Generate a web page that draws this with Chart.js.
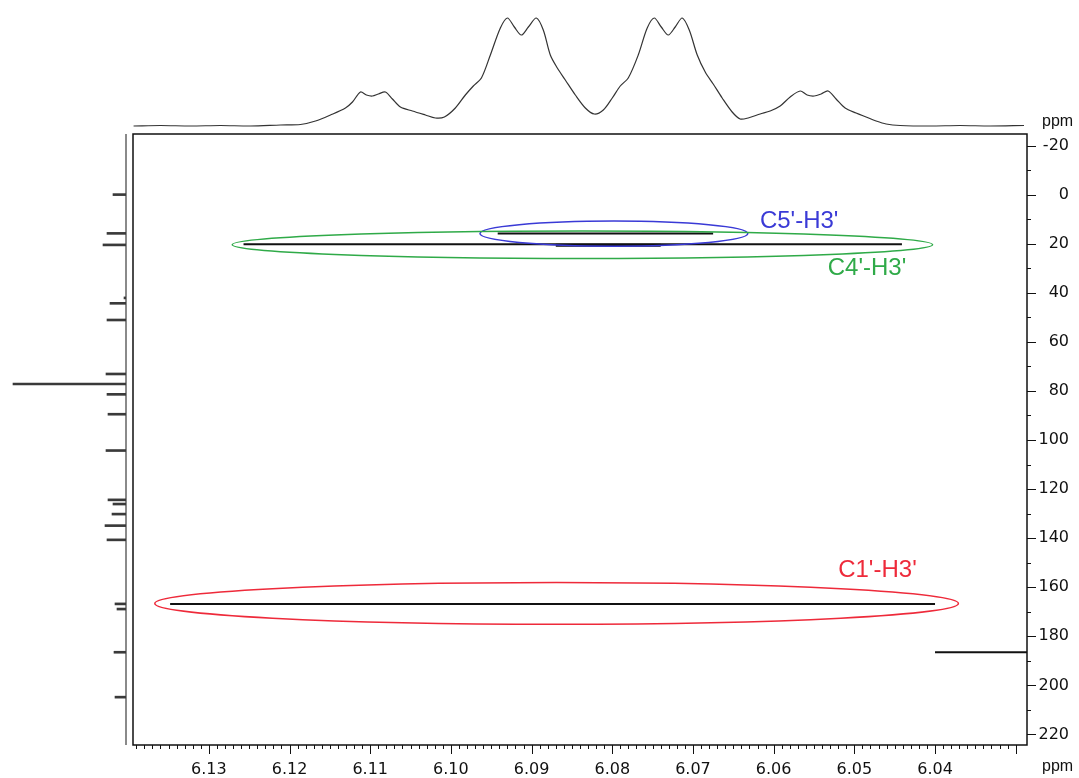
<!DOCTYPE html>
<html>
<head>
<meta charset="utf-8">
<title>HMBC H3'</title>
<script src="https://cdn.jsdelivr.net/npm/chart.js@4.4.0/dist/chart.umd.min.js"></script>
<style>
html, body { margin: 0; padding: 0; background: #fff; }
#wrap { position: relative; width: 1079px; height: 778px; overflow: hidden; }
canvas { position: absolute; }
#main { left: 0; top: 0; }
#top { left: 133px; top: 6px; }
#side { left: 0; top: 134px; }
</style>
</head>
<body>
<div id="wrap">
  <canvas id="main" width="1079" height="778" style="width:1079px;height:778px"></canvas>
  <canvas id="top" width="894" height="124" style="width:894px;height:124px"></canvas>
  <canvas id="side" width="126" height="611" style="width:126px;height:611px"></canvas>
</div>
<script>
// axis ranges (ppm) and tick labels
var h1Range = [6.0286, 6.1394];
var c13Range = [-24.7, 224.3];
var xTickLabels = [6.13, 6.12, 6.11, 6.10, 6.09, 6.08, 6.07, 6.06, 6.05, 6.04];
var yTickLabels = [-20, 0, 20, 40, 60, 80, 100, 120, 140, 160, 180, 200, 220];

// 1H projection (top trace)
var h1Shift = [6.13933, 6.13598, 6.13227, 6.12855, 6.12484, 6.12112, 6.11864, 6.11678, 6.11493, 6.11307,
  6.11220, 6.11121, 6.11047, 6.10973, 6.10898, 6.10812, 6.10725, 6.10626, 6.10477, 6.10316,
  6.10192, 6.10081, 6.09945, 6.09821, 6.09722, 6.09622, 6.09511, 6.09387, 6.09300, 6.09214,
  6.09127, 6.09040, 6.08941, 6.08855, 6.08768, 6.08681, 6.08582, 6.08458, 6.08334, 6.08223,
  6.08111, 6.08000, 6.07901, 6.07802, 6.07678, 6.07567, 6.07480, 6.07393, 6.07306, 6.07220,
  6.07133, 6.07046, 6.06947, 6.06848, 6.06749, 6.06638, 6.06514, 6.06415, 6.06316, 6.06167,
  6.06043, 6.05919, 6.05795, 6.05671, 6.05585, 6.05498, 6.05411, 6.05325, 6.05226, 6.05114,
  6.04978, 6.04854, 6.04730, 6.04606, 6.04433, 6.04061, 6.03690, 6.03318, 6.02897];
var h1Intensity = [0, 0.5, 0, 0.5, 0, 1, 1.5, 5, 11, 18,
  24, 34, 31, 30, 32, 34, 27, 19, 15, 11,
  8, 9, 18, 31, 40, 48, 71, 98, 108, 99,
  91, 99, 108, 96, 71, 58, 46, 31, 18, 12,
  16, 28, 40, 48, 71, 98, 108, 99, 91, 99,
  108, 96, 71, 54, 42, 28, 14, 7, 8, 12,
  15, 20, 29, 35, 31, 30, 32, 35, 27, 18,
  13, 9, 5, 2, 0.5, 0, 0.5, 0, 0.5];

// 13C projection (left spikes)
var c13Shift = [0.0, 15.8, 20.5, 42.1, 44.3, 51.1, 73.1, 77.2, 81.4, 89.5,
  104.3, 124.4, 126.1, 130.2, 134.9, 140.7, 166.8, 168.9, 186.5, 204.8];
var c13Intensity = [13, 19, 23, 2, 16, 19, 20, 113, 19, 18,
  20, 18, 13, 14, 21, 19, 11, 9, 12, 11];

// cross peaks: start H, end H, C shift
var crossNames = ["C4'-H3'", "C4'-H3' core", "C5'-H3'", "C1'-H3'", "edge"];
var crossStartH = [6.1257, 6.0870, 6.0942, 6.1348, 6.0400];
var crossEndH = [6.0441, 6.0740, 6.0675, 6.0400, 6.0286];
var crossC = [20.2, 20.6, 15.8, 166.8, 186.5];

// marked regions around the correlations
var regionLabels = ["C5'-H3'", "C4'-H3'", "C1'-H3'"];
var regionCenterH = [6.0798, 6.0837, 6.0869];
var regionCenterC = [15.9, 20.4, 166.6];
var regionHalfH = [0.0166, 0.0434, 0.0498];
var regionHalfC = [5.1, 5.6, 8.5];
var labelH = [6.0617, 6.0533, 6.0520];
var labelC = [11.0, 29.9, 153.0];
var regionColors = ['#3a3ad6', '#2faa48', '#ee2a3a'];

var tickFont = { family: 'DejaVu Sans', size: 16 };

// frame, ticks, regions and labels for the 2D plot
var framePlugin = {
  id: 'frame',
  afterDatasetsDraw: function (chart) {
    var ctx = chart.ctx, x = chart.scales.x, y = chart.scales.y;
    ctx.save();
    ctx.lineWidth = 1.5;
    for (var i = 0; i < regionLabels.length; i++) {
      var cx = x.getPixelForValue(regionCenterH[i]);
      var cy = y.getPixelForValue(regionCenterC[i]);
      var rx = Math.abs(x.getPixelForValue(regionCenterH[i] + regionHalfH[i]) - cx);
      var ry = Math.abs(y.getPixelForValue(regionCenterC[i] + regionHalfC[i]) - cy);
      ctx.strokeStyle = regionColors[i];
      ctx.beginPath();
      ctx.ellipse(cx, cy, rx, ry, 0, 0, Math.PI * 2);
      ctx.stroke();
      ctx.fillStyle = regionColors[i];
      ctx.font = '24px "Liberation Sans", Arial, sans-serif';
      ctx.textAlign = 'left';
      ctx.textBaseline = 'middle';
      ctx.fillText(regionLabels[i], x.getPixelForValue(labelH[i]), y.getPixelForValue(labelC[i]));
    }
    ctx.restore();
  },
  afterDraw: function (chart) {
    var ctx = chart.ctx, a = chart.chartArea, x = chart.scales.x, y = chart.scales.y;
    ctx.save();
    ctx.strokeStyle = '#111';
    ctx.lineWidth = 1.5;
    ctx.strokeRect(a.left, a.top, a.right - a.left, a.bottom - a.top);

    // x ticks, minor every 0.001
    ctx.lineWidth = 1;
    ctx.beginPath();
    for (var v = 6030; v <= 6139; v++) {
      var px = Math.round(x.getPixelForValue(v / 1000)) + 0.5;
      var len = (v % 10 === 0) ? 9 : 4;
      ctx.moveTo(px, a.bottom);
      ctx.lineTo(px, a.bottom + len);
    }
    // y ticks, minor every 10
    for (var c = -20; c <= 220; c += 10) {
      var py = Math.round(y.getPixelForValue(c)) + 0.5;
      var l = (c % 20 === 0) ? 9 : 4;
      ctx.moveTo(a.right, py);
      ctx.lineTo(a.right + l, py);
    }
    ctx.stroke();

    // baseline of the 13C projection
    ctx.strokeStyle = '#8a8a8a';
    ctx.lineWidth = 2;
    ctx.beginPath();
    ctx.moveTo(126, a.top);
    ctx.lineTo(126, a.bottom);
    ctx.stroke();

    ctx.fillStyle = '#111';
    ctx.font = '16px "Liberation Sans", Arial, sans-serif';
    ctx.textAlign = 'left';
    ctx.textBaseline = 'middle';
    ctx.fillText('ppm', a.right + 15, a.top - 12);
    ctx.fillText('ppm', a.right + 15, a.bottom + 22);
    ctx.restore();
  }
};

var crossSets = crossNames.map(function (name, i) {
  return {
    label: name,
    data: [{ x: crossStartH[i], y: crossC[i] }, { x: crossEndH[i], y: crossC[i] }],
    showLine: true,
    borderColor: '#111',
    borderWidth: i === 1 ? 3 : 2,
    pointRadius: 0
  };
});

new Chart(document.getElementById('main'), {
  type: 'scatter',
  data: { datasets: crossSets },
  options: {
    responsive: false,
    animation: false,
    layout: { padding: { left: 133, top: 134, right: 10, bottom: 0 } },
    plugins: { legend: { display: false }, tooltip: { enabled: false } },
    scales: {
      x: {
        type: 'linear', reverse: true, min: h1Range[0], max: h1Range[1],
        grid: { display: false, drawTicks: false }, border: { display: false },
        afterBuildTicks: function (s) { s.ticks = xTickLabels.map(function (v) { return { value: v }; }); },
        afterFit: function (s) { s.height = 33; },
        ticks: {
          autoSkip: false, maxRotation: 0, padding: 15, color: '#111', font: tickFont,
          callback: function (v) { return Number(v).toFixed(2); }
        }
      },
      y: {
        type: 'linear', position: 'right', reverse: true, min: c13Range[0], max: c13Range[1],
        grid: { display: false, drawTicks: false }, border: { display: false },
        afterBuildTicks: function (s) { s.ticks = yTickLabels.map(function (v) { return { value: v }; }); },
        afterFit: function (s) { s.width = 42; },
        ticks: { autoSkip: false, padding: 11, crossAlign: 'far', color: '#111', font: tickFont }
      }
    }
  },
  plugins: [framePlugin]
});

// top: 1H trace
new Chart(document.getElementById('top'), {
  type: 'line',
  data: {
    datasets: [{
      data: h1Shift.map(function (v, i) { return { x: v, y: h1Intensity[i] }; }),
      borderColor: '#333', borderWidth: 1.2, pointRadius: 0, tension: 0.3, fill: false
    }]
  },
  options: {
    responsive: false,
    animation: false,
    layout: { padding: 0 },
    plugins: { legend: { display: false }, tooltip: { enabled: false } },
    scales: {
      x: { type: 'linear', reverse: true, min: h1Range[0], max: h1Range[1], display: false },
      y: { min: -4, max: 120, display: false }
    }
  }
});

// left: 13C spikes
new Chart(document.getElementById('side'), {
  type: 'bar',
  data: {
    datasets: [{
      data: c13Shift.map(function (v, i) { return { x: c13Intensity[i], y: v }; }),
      backgroundColor: '#3a3a3a', barThickness: 2
    }]
  },
  options: {
    indexAxis: 'y',
    responsive: false,
    animation: false,
    layout: { padding: 0 },
    plugins: { legend: { display: false }, tooltip: { enabled: false } },
    scales: {
      x: { type: 'linear', reverse: true, min: 0, max: 126, display: false },
      y: { type: 'linear', reverse: true, offset: false, min: c13Range[0], max: c13Range[1], display: false }
    }
  }
});
</script>
</body>
</html>
